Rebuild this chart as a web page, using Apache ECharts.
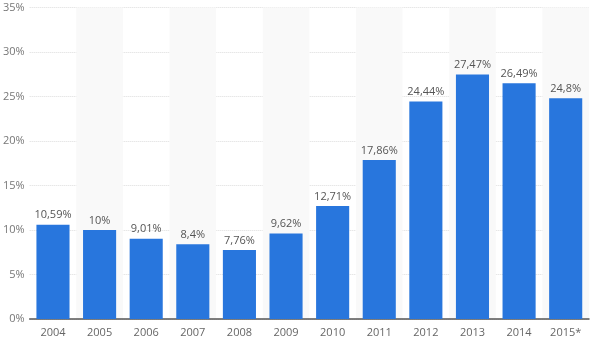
<!DOCTYPE html>
<html>
<head>
<meta charset="utf-8">
<script src="https://cdn.jsdelivr.net/npm/echarts@6/dist/echarts.min.js"></script>
<style>
  html, body { margin: 0; padding: 0; background: #fff; }
  #chart { width: 590px; height: 341px; }
</style>
</head>
<body>
<div id="chart"></div>
<script>
// Yearly shares (percent)
const years = ['2004', '2005', '2006', '2007', '2008', '2009', '2010', '2011', '2012', '2013', '2014', '2015*'];
const shares = [10.59, 10, 9.01, 8.4, 7.76, 9.62, 12.71, 17.86, 24.44, 27.47, 26.49, 24.8];
const yTicks = [0, 5, 10, 15, 20, 25, 30, 35];

const fmt = v => String(v).replace('.', ',') + '%';

const chart = echarts.init(document.getElementById('chart'), null, { renderer: 'canvas' });
chart.setOption({
  animation: false,
  grid: { left: 27, right: 1, top: 7.5, bottom: 22, containLabel: false },
  xAxis: {
    type: 'category',
    data: years,
    axisTick: { show: false },
    axisLine: { lineStyle: { color: '#555', width: 1.5 } },
    axisLabel: { color: '#666', fontSize: 11, fontFamily: 'Open Sans, sans-serif', margin: 8 },
    splitArea: { show: true, areaStyle: { color: ['rgba(0,0,0,0)', '#f9f9f9'] } }
  },
  yAxis: {
    type: 'value',
    min: yTicks[0],
    max: yTicks[yTicks.length - 1],
    interval: 5,
    axisLine: { show: false },
    axisTick: { show: false },
    axisLabel: { color: '#777', fontSize: 11, fontFamily: 'Open Sans, sans-serif', margin: 5, formatter: v => v + '%' },
    splitLine: { lineStyle: { color: '#dcdcdc', type: [1, 1], width: 1 } }
  },
  series: [{
    type: 'bar',
    data: shares,
    barCategoryGap: '29%',
    itemStyle: { color: '#2876dd' },
    label: {
      show: true,
      position: 'top',
      distance: 4,
      color: '#555',
      fontSize: 11,
      fontFamily: 'Open Sans, sans-serif',
      formatter: p => fmt(p.value)
    }
  }]
});
</script>
</body>
</html>
